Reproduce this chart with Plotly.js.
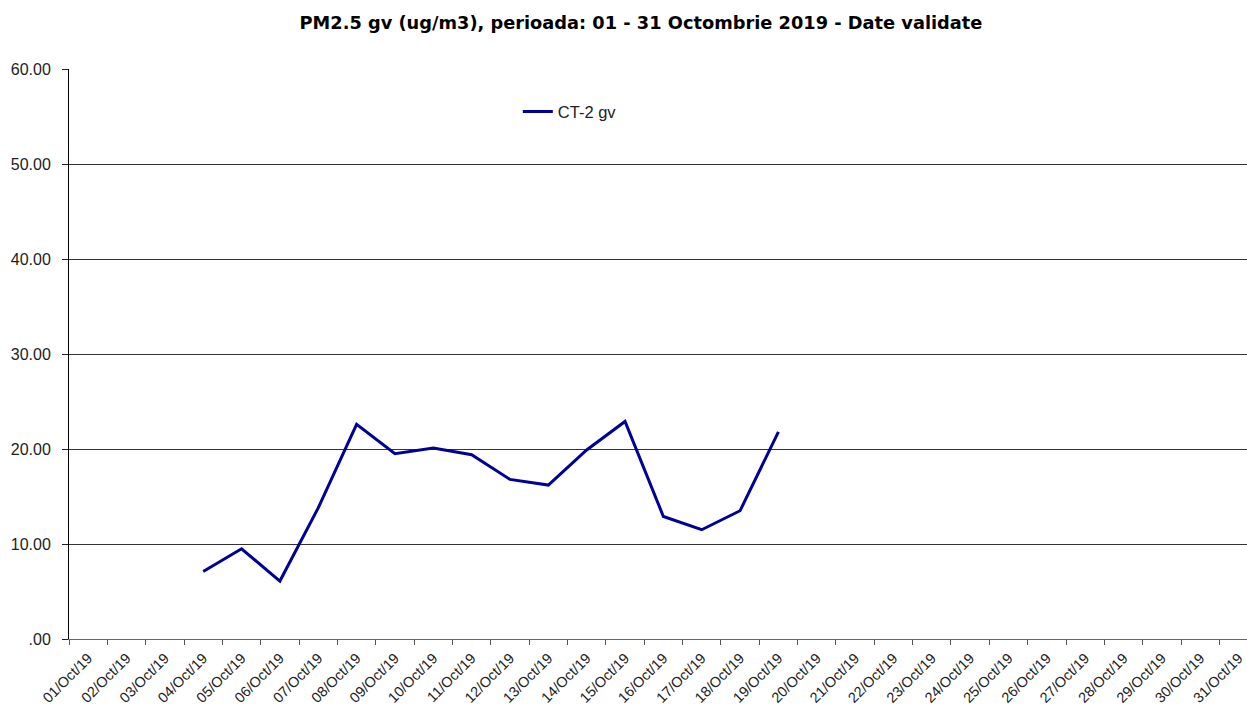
<!DOCTYPE html>
<html>
<head>
<meta charset="utf-8">
<script src="https://cdn.plot.ly/plotly-3.0.1.min.js"></script>
<style>html,body{margin:0;padding:0;background:#fff;}#chart{width:1247px;height:709px;}</style>
</head>
<body>
<div id="chart"></div>
<script>
const days = ["01/Oct/19","02/Oct/19","03/Oct/19","04/Oct/19","05/Oct/19","06/Oct/19","07/Oct/19","08/Oct/19","09/Oct/19","10/Oct/19","11/Oct/19","12/Oct/19","13/Oct/19","14/Oct/19","15/Oct/19","16/Oct/19","17/Oct/19","18/Oct/19","19/Oct/19","20/Oct/19","21/Oct/19","22/Oct/19","23/Oct/19","24/Oct/19","25/Oct/19","26/Oct/19","27/Oct/19","28/Oct/19","29/Oct/19","30/Oct/19","31/Oct/19"];
const ct2gv = [null,null,null,7.1,9.5,6.1,13.8,22.6,19.5,20.1,19.4,16.8,16.2,19.9,22.9,12.9,11.5,13.5,21.8,null,null,null,null,null,null,null,null,null,null,null,null];
const yTickVals = [0,10,20,30,40,50,60];
const yTickText = [".00","10.00","20.00","30.00","40.00","50.00","60.00"];
const seriesName = "CT-2 gv";
const chartTitle = "PM2.5 gv (ug/m3), perioada: 01 - 31 Octombrie 2019 - Date validate";

const trace = {
  x: days, y: ct2gv, type: "scatter", mode: "lines", name: seriesName,
  line: {color: "#000096", width: 3}, connectgaps: false, showlegend: true
};
const layout = {
  width: 1247, height: 709,
  margin: {l: 69, r: 0, t: 69, b: 70},
  paper_bgcolor: "#fff", plot_bgcolor: "#fff",
  font: {family: "Liberation Sans, Arial, sans-serif", color: "#222"},
  title: {text: "<b>" + chartTitle + "</b>", font: {family: "DejaVu Sans, Verdana, sans-serif", size: 17.8, color: "#000"}, x: 0.514, xanchor: "center", y: 0.968, yanchor: "middle"},
  xaxis: {
    type: "category", categoryorder: "array", categoryarray: days,
    range: [-0.5, 30.22], tickson: "boundaries", ticks: "outside", ticklen: 5, tickcolor: "#555",
    tickangle: -45, tickfont: {size: 14.5, color: "#222"}, ticklabelstandoff: 4,
    showline: true, linecolor: "#666", linewidth: 1, showgrid: false, zeroline: false, fixedrange: true
  },
  yaxis: {
    range: [0, 60], tickvals: yTickVals, ticktext: yTickText,
    ticks: "outside", ticklen: 6, tickcolor: "#222", tickfont: {size: 16, color: "#222"},
    showline: true, linecolor: "#000", linewidth: 1,
    showgrid: true, gridcolor: "#333", gridwidth: 1, zeroline: false, fixedrange: true, ticklabelstandoff: 8
  },
  legend: {x: 0.381, y: 0.925, xanchor: "left", yanchor: "middle", bgcolor: "rgba(0,0,0,0)", font: {size: 16.5, color: "#222"}, itemwidth: 30},
  showlegend: true
};
Plotly.newPlot("chart", [trace], layout, {displayModeBar: false, staticPlot: true});
</script>
</body>
</html>
